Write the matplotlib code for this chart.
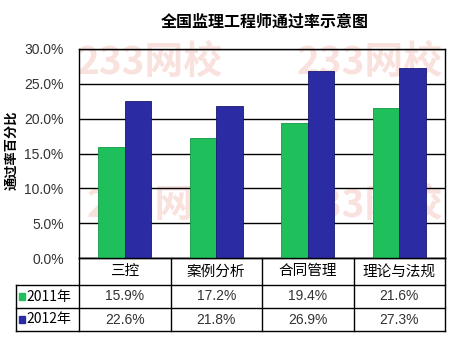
import matplotlib
matplotlib.use("Agg")
import matplotlib.pyplot as plt
import numpy as np

plt.rcParams['font.family'] = ['Noto Sans CJK SC', 'DejaVu Sans']

title = '全国监理工程师通过率示意图'
ylabel = '通过率百分比'
categories = ['三控', '案例分析', '合同管理', '理论与法规']
series_names = ['2011年', '2012年']
rate_2011 = [15.9, 17.2, 19.4, 21.6]
rate_2012 = [22.6, 21.8, 26.9, 27.3]
colors = ['#1FBF5C', '#2B2BA3']

W, H = 455, 345
fig = plt.figure(figsize=(W / 100, H / 100), dpi=100)

def fx(px):
    return px / W

def fy(py):
    return 1 - py / H

# main plot area
L, R, T, B = 79, 445, 49, 258
ax = fig.add_axes([fx(L), fy(B), fx(R) - fx(L), fy(T) - fy(B)])
n = len(categories)
x = np.arange(n)
bw = 0.29
ax.bar(x - bw / 2, rate_2011, bw, color=colors[0], edgecolor='#119944', linewidth=0.6, zorder=3)
ax.bar(x + bw / 2, rate_2012, bw, color=colors[1], edgecolor='#1a1a70', linewidth=0.6, zorder=3)
ax.set_xlim(-0.5, n - 0.5)
ax.set_ylim(0, 30)
ax.set_yticks(np.arange(0, 31, 5))
ax.set_yticklabels(['%.1f%%' % v for v in np.arange(0, 31, 5)], fontsize=10, color='#333333',
                   family=['Liberation Sans'])
ax.tick_params(axis='y', length=0, pad=11)
ax.set_xticks([])
ax.grid(axis='y', color='black', linewidth=1, zorder=1)
for s in ax.spines.values():
    s.set_linewidth(1)
fig.text(fx(265), fy(22), title, ha='center', va='center', fontsize=11.5, fontweight='bold')
fig.text(fx(11), fy(150), ylabel, ha='center', va='center', rotation=90, fontsize=9.5, fontweight='bold')

# faint watermarks inside the plot
for (wx, wy) in [(150, 62), (370, 62), (160, 205), (370, 205)]:
    ax.text(fx(wx), fy(wy), '233网校', transform=fig.transFigure, ha='center', va='center',
            fontsize=28, fontweight='bold', style='italic', color='#f4c4bc', alpha=0.5, zorder=0)

# data table below
tab = fig.add_axes([0, 0, 1, 1], facecolor='none')
tab.set_xlim(0, W)
tab.set_ylim(H, 0)
tab.axis('off')
col_w = (R - L) / n
rows_y = [258, 285, 308, 331]
lc = dict(color='black', linewidth=1)
tab.plot([L, R], [rows_y[0], rows_y[0]], **lc)
for yy in rows_y[1:]:
    tab.plot([16, R], [yy, yy], **lc)
tab.plot([16, 16], [rows_y[1], rows_y[3]], **lc)
for i in range(n + 1):
    tab.plot([L + i * col_w] * 2, [rows_y[0], rows_y[3]], **lc)
for i, c in enumerate(categories):
    tab.text(L + (i + 0.5) * col_w, (rows_y[0] + rows_y[1]) / 2, c, ha='center', va='center', fontsize=10.5)
for r, (name, vals) in enumerate(zip(series_names, [rate_2011, rate_2012])):
    yc = (rows_y[r + 1] + rows_y[r + 2]) / 2
    tab.add_patch(plt.Rectangle((19, yc - 3.5), 6, 7, color=colors[r]))
    tab.text(26, yc, name, ha='left', va='center', fontsize=10)
    for i, v in enumerate(vals):
        tab.text(L + (i + 0.5) * col_w, yc, '%.1f%%' % v, ha='center', va='center', fontsize=10,
                 color='#333333', family=['Liberation Sans'])

fig.savefig('out.png', dpi=100)
